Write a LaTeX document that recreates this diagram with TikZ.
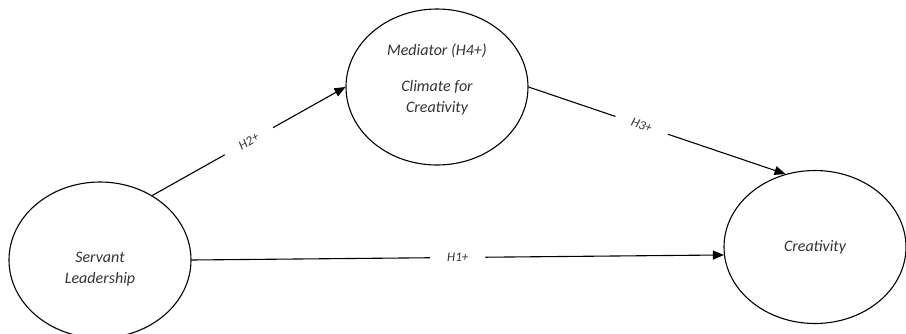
\documentclass[tikz,border=0pt]{standalone}
\usepackage{fontspec}
\setmainfont{Carlito}
\usetikzlibrary{shapes.geometric,arrows.meta}

\begin{document}
\begin{tikzpicture}[x=1pt, y=-1pt,
		bubble/.style={draw, ellipse, line width=1.1pt, minimum width=182pt, minimum height=156pt, inner sep=0pt, align=center, text=black!80, font=\fontsize{16}{21}\selectfont\itshape},
		hyp/.style={midway, sloped, fill=white, inner xsep=17pt, inner ysep=2pt, text=black!80, font=\fontsize{13}{15}\selectfont\itshape},
		link/.style={->, >={Triangle[length=11pt,width=9pt]}, line width=1.1pt}]
				\useasboundingbox (0,0) rectangle (906,333);
				\node[bubble, text height=49pt] (SL)at(100, 260) {Servant\\Leadership};
				\node[bubble, text depth=18pt] (MED)at(437, 87) {Mediator (H4+)\\[15pt]Climate for\\Creativity};
				\node[bubble, minimum height=153pt] (CR)at(815, 247) {Creativity};
				\draw[link] (SL.51) -- (MED.west) node[hyp] {H2+};
				\draw[link] (MED.east) -- (CR.112) node[hyp, pos=0.44] {H3+};
				\draw[link] (SL.east) -- (CR.185) node[hyp] {H1+};
			\end{tikzpicture}
\end{document}
